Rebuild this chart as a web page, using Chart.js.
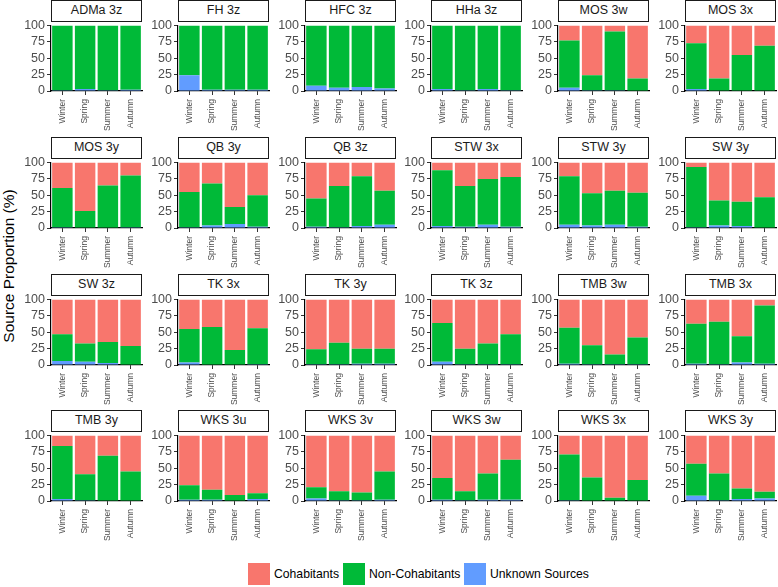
<!DOCTYPE html>
<html><head><meta charset="utf-8">
<script src="https://cdn.jsdelivr.net/npm/chart.js@4/dist/chart.umd.min.js"></script>
<style>
body{margin:0;background:#fff;width:778px;height:587px;overflow:hidden;position:relative;font-family:"Liberation Sans",Arial,sans-serif;}
.strip{position:absolute;box-sizing:border-box;border:1.3px solid #1a1a1a;background:#fff;text-align:center;font-size:12.5px;color:#1a1a1a;}
.pc{position:absolute;}
#ytitle{position:absolute;left:9px;top:266px;transform:translate(-50%,-50%) rotate(-90deg);white-space:nowrap;font-size:15.5px;color:#000;}
.lk{position:absolute;top:563px;width:22px;height:22px;}
.lt{position:absolute;top:563px;height:22px;line-height:22px;font-size:12.2px;color:#000;white-space:nowrap;}
</style></head><body>
<div id="ytitle">Source Proportion (%)</div>
<script>
const panels = ['ADMa 3z','FH 3z','HFC 3z','HHa 3z','MOS 3w','MOS 3x',
  'MOS 3y','QB 3y','QB 3z','STW 3x','STW 3y','SW 3y',
  'SW 3z','TK 3x','TK 3y','TK 3z','TMB 3w','TMB 3x',
  'TMB 3y','WKS 3u','WKS 3v','WKS 3w','WKS 3x','WKS 3y'];
const seasons = ['Winter','Spring','Summer','Autumn'];
const seriesNames = ['Cohabitants','Non-Cohabitants','Unknown Sources'];
const yTicks = [0,25,50,75,100];
const unknownSources = [
  [1,3,1,2],[24,2,2,2],[8,5,6,4],[3,1,3,1],[5,1,1,0],[3,0,0,0],
  [1,0,0,1],[1,4,6,2],[2,1,3,5],[3,2,5,2],[5,4,5,2],[1,4,3,0],
  [6,5,3,0],[4,0,0,1],[1,1,2,2],[5,1,1,1],[2,1,1,1],[2,1,4,2],
  [3,1,0,0],[2,2,0,3],[4,1,1,2],[2,1,2,2],[1,0,0,0],[8,1,3,4]];
const nonCohabitants = [
  [99,97,99,98],[76,98,98,98],[92,95,94,96],[97,99,97,99],[72,23,90,19],[70,19,55,69],
  [60,26,65,79],[54,64,26,48],[43,63,76,52],[85,62,70,76],[74,49,52,52],[92,38,37,47],
  [41,28,32,29],[51,58,23,55],[23,33,23,23],[59,24,32,46],[55,29,15,41],[61,65,40,89],
  [81,40,69,45],[22,15,9,9],[17,14,12,43],[33,14,40,61],[70,36,5,32],[49,41,16,10]];
const cohabitants = [
  [0,0,0,0],[0,0,0,0],[0,0,0,0],[0,0,0,0],[23,76,9,81],[27,81,45,31],
  [39,74,35,20],[45,32,68,50],[55,36,21,43],[12,36,25,22],[21,47,43,46],[7,58,60,53],
  [53,67,65,71],[45,42,77,44],[76,66,75,75],[36,75,67,53],[43,70,84,58],[37,34,56,9],
  [16,59,31,55],[76,83,91,88],[79,85,87,55],[65,85,58,37],[29,64,95,68],[43,58,81,86]];

const colors = {'Cohabitants':'#F8766D','Non-Cohabitants':'#00BA38','Unknown Sources':'#619CFF'};

// legend
const keyLefts=[248,343,464], textLefts=[274,369,490];
seriesNames.forEach((n,j)=>{
  const k=document.createElement('div');k.className='lk';k.style.left=keyLefts[j]+'px';k.style.background=colors[n];document.body.appendChild(k);
  const t=document.createElement('div');t.className='lt';t.style.left=textLefts[j]+'px';t.textContent=n;document.body.appendChild(t);
});

const PAD_L=34, PAD_T=8, PAD_R=4, XH=45, PW=91, PH=67;
panels.forEach((name,i)=>{
  const col=i%6, row=Math.floor(i/6);
  const plotLeft=Math.round(51+col*126.8), plotTop=Math.round(24.3+row*136.6);
  const s=document.createElement('div');s.className='strip';
  s.style.left=plotLeft+'px';s.style.top=(plotTop-24)+'px';s.style.width=PW+'px';s.style.height='22px';s.style.lineHeight='19.5px';
  s.textContent=name;document.body.appendChild(s);
  const d=document.createElement('div');d.className='pc';
  const W=PAD_L+PW+PAD_R, H=PAD_T+PH+XH;
  d.style.left=(plotLeft-PAD_L)+'px';d.style.top=(plotTop-PAD_T)+'px';d.style.width=W+'px';d.style.height=H+'px';
  const c=document.createElement('canvas');c.width=W;c.height=H;c.style.width=W+'px';c.style.height=H+'px';
  d.appendChild(c);document.body.appendChild(d);
  new Chart(c,{
    type:'bar',
    data:{labels:seasons,datasets:[
      {label:'Unknown Sources',data:unknownSources[i],backgroundColor:colors['Unknown Sources'],borderWidth:0},
      {label:'Non-Cohabitants',data:nonCohabitants[i],backgroundColor:colors['Non-Cohabitants'],borderWidth:0},
      {label:'Cohabitants',data:cohabitants[i],backgroundColor:colors['Cohabitants'],borderWidth:0}
    ]},
    options:{
      responsive:false,animation:false,devicePixelRatio:1,
      layout:{padding:{left:0,top:PAD_T,right:PAD_R,bottom:0}},
      plugins:{legend:{display:false},tooltip:{enabled:false}},
      datasets:{bar:{barPercentage:0.9,categoryPercentage:1}},
      scales:{
        x:{stacked:true,
          grid:{display:true,drawOnChartArea:false,drawTicks:true,tickLength:4,color:'#333',offset:false},
          border:{display:true,color:'#000',width:1.2},
          ticks:{autoSkip:false,minRotation:90,maxRotation:90,padding:4,color:'#4d4d4d',font:{family:'Liberation Sans',size:8.5}},
          afterFit:sc=>{sc.height=XH;}},
        y:{stacked:true,min:0,max:100,
          afterBuildTicks:sc=>{sc.ticks=yTicks.map(v=>({value:v}));},
          grid:{display:true,drawOnChartArea:false,drawTicks:true,tickLength:4,color:'#333'},
          border:{display:true,color:'#000',width:1.2},
          ticks:{autoSkip:false,padding:2,color:'#4d4d4d',font:{family:'Liberation Sans',size:12.5}},
          afterFit:sc=>{sc.width=PAD_L;}}
      }
    }
  });
});
</script>
</body></html>
